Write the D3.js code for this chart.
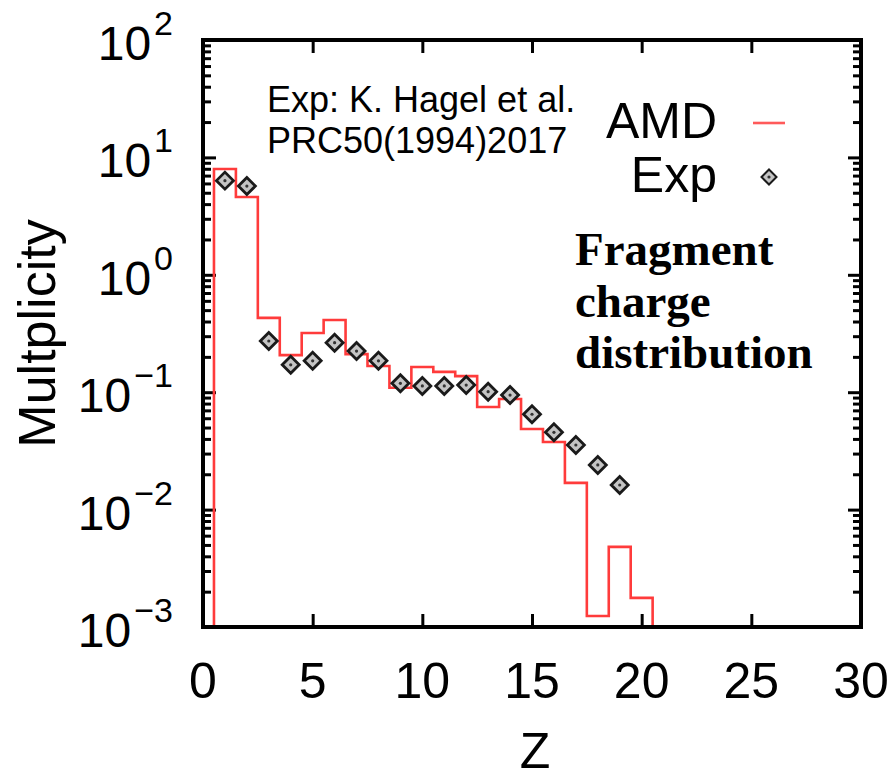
<!DOCTYPE html>
<html>
<head>
<meta charset="utf-8">
<script src="https://cdn.jsdelivr.net/npm/d3@7"></script>
<style>
  body { margin: 0; background: #fff; }
  svg { display: block; }
</style>
</head>
<body>
<svg width="896" height="781"></svg>
<script>
// AMD histogram, one bin per charge Z
var amdZ = [1, 2, 3, 4, 5, 6, 7, 8, 9, 10, 11, 12, 13, 14, 15, 16, 17, 18, 19, 20];
var amdMult = [7.96, 4.6, 0.43, 0.207, 0.319, 0.412, 0.211, 0.167, 0.109, 0.164,
               0.149, 0.137, 0.0748, 0.0875, 0.0486, 0.0377, 0.0169, 0.00124, 0.00481, 0.00177];

// Experimental points (Hagel et al.)
var expZ = [1, 2, 3, 4, 5, 6, 7, 8, 9, 10, 11, 12, 13, 14, 15, 16, 17, 18, 19];
var expMult = [6.34, 5.7, 0.273, 0.171, 0.185, 0.264, 0.224, 0.185, 0.119, 0.113,
               0.113, 0.115, 0.101, 0.0946, 0.0649, 0.0455, 0.0355, 0.024, 0.0162];

var xTicks = [0, 5, 10, 15, 20, 25, 30];
var yExponents = [2, 1, 0, -1, -2, -3];

var svg = d3.select('svg');
var padding = {t: 40, r: 35, b: 154, l: 203};
var svgWidth = +svg.attr('width');
var svgHeight = +svg.attr('height');
var chartWidth = svgWidth - padding.l - padding.r;
var chartHeight = svgHeight - padding.t - padding.b;

var xScale = d3.scaleLinear().domain([0, 30]).range([0, chartWidth]);
var yScale = d3.scaleLog().domain([1e-3, 1e2]).range([chartHeight, 0]);

var chartG = svg.append('g')
    .attr('transform', 'translate(' + [padding.l, padding.t] + ')');

svg.append('defs').append('clipPath').attr('id', 'plotClip')
    .append('rect').attr('width', chartWidth).attr('height', chartHeight);

// minor log ticks 2..9 in every decade
var minorTicks = [];
yExponents.slice(0, -1).forEach(function(e) {
    for (var k = 2; k <= 9; k++) minorTicks.push(k * Math.pow(10, e - 1));
});
var majorTicks = yExponents.map(function(e) { return Math.pow(10, e); });

function styleAxis(g) {
    g.select('.domain').remove();
    g.selectAll('line').attr('stroke', '#000').attr('stroke-width', 3);
    g.selectAll('text').remove();
}

chartG.append('g').attr('transform', 'translate(0,' + chartHeight + ')')
    .call(d3.axisBottom(xScale).tickValues(xTicks).tickSize(-13)).call(styleAxis);
chartG.append('g')
    .call(d3.axisTop(xScale).tickValues(xTicks).tickSize(-13)).call(styleAxis);
chartG.append('g')
    .call(d3.axisLeft(yScale).tickValues(majorTicks).tickSize(-13)).call(styleAxis);
chartG.append('g')
    .call(d3.axisLeft(yScale).tickValues(minorTicks).tickSize(-8)).call(styleAxis);
chartG.append('g').attr('transform', 'translate(' + chartWidth + ',0)')
    .call(d3.axisRight(yScale).tickValues(majorTicks).tickSize(-13)).call(styleAxis);
chartG.append('g').attr('transform', 'translate(' + chartWidth + ',0)')
    .call(d3.axisRight(yScale).tickValues(minorTicks).tickSize(-8)).call(styleAxis);

// x tick labels
chartG.selectAll('.xlab').data(xTicks).enter().append('text')
    .attr('class', 'xlab')
    .attr('x', function(d) { return xScale(d); })
    .attr('y', chartHeight + 71)
    .attr('text-anchor', 'middle')
    .attr('font-family', 'Liberation Sans, Arial, sans-serif')
    .attr('font-size', 50)
    .text(function(d) { return d; });

// y tick labels 10^n
var ylab = chartG.selectAll('.ylab').data(yExponents).enter().append('text')
    .attr('class', 'ylab')
    .attr('x', -30)
    .attr('y', function(d) { return yScale(Math.pow(10, d)) + 20; })
    .attr('text-anchor', 'end')
    .attr('font-family', 'Liberation Sans, Arial, sans-serif')
    .attr('font-size', 48);
ylab.append('tspan').text('10');
ylab.append('tspan').attr('dy', -25).attr('dx', 3).attr('font-size', 34)
    .text(function(d) { return d < 0 ? '\u2212' + (-d) : d; });

// axis titles
svg.append('text')
    .attr('x', 535).attr('y', 768)
    .attr('text-anchor', 'middle')
    .attr('font-family', 'Liberation Sans, Arial, sans-serif')
    .attr('font-size', 50)
    .text('Z');
svg.append('text')
    .attr('transform', 'translate(55,' + (padding.t + chartHeight / 2) + ') rotate(-90)')
    .attr('text-anchor', 'middle')
    .attr('font-family', 'Liberation Sans, Arial, sans-serif')
    .attr('font-size', 52)
    .text('Multplicity');

// AMD step line
var floorVal = 1e-4;
var stepPts = [[amdZ[0] - 0.5, floorVal]];
amdZ.forEach(function(z, i) { stepPts.push([z - 0.5, amdMult[i]]); });
stepPts.push([amdZ[amdZ.length - 1] + 0.5, amdMult[amdMult.length - 1]]);
stepPts.push([amdZ[amdZ.length - 1] + 0.5, floorVal]);

var stepLine = d3.line()
    .x(function(d) { return xScale(d[0]); })
    .y(function(d) { return yScale(d[1]); })
    .curve(d3.curveStepAfter);

chartG.append('path')
    .datum(stepPts)
    .attr('clip-path', 'url(#plotClip)')
    .attr('d', stepLine)
    .attr('fill', 'none')
    .attr('stroke', '#ff3b3b')
    .attr('stroke-width', 2.6);

// Exp diamonds
function diamond(sel, r, sw) {
    sel.append('path')
        .attr('d', 'M0,' + (-r) + 'L' + r + ',0L0,' + r + 'L' + (-r) + ',0Z')
        .attr('fill', '#c4c4c4')
        .attr('stroke', '#1a1a1a')
        .attr('stroke-width', sw);
    sel.append('circle').attr('r', 1.6).attr('fill', '#333');
}

var dots = chartG.selectAll('.dot')
    .data(expZ.map(function(z, i) { return {z: z, m: expMult[i]}; }))
    .enter().append('g')
    .attr('class', 'dot')
    .attr('transform', function(d) {
        return 'translate(' + [xScale(d.z), yScale(d.m)] + ')';
    });
diamond(dots, 8.5, 2.8);

// frame
chartG.append('rect')
    .attr('width', chartWidth).attr('height', chartHeight)
    .attr('fill', 'none').attr('stroke', '#000').attr('stroke-width', 4);

// legend
var legFont = 'Liberation Sans, Arial, sans-serif';
svg.append('text').attr('x', 717).attr('y', 138).attr('text-anchor', 'end')
    .attr('font-family', legFont).attr('font-size', 50).text('AMD');
svg.append('line').attr('x1', 753).attr('x2', 785).attr('y1', 123).attr('y2', 123)
    .attr('stroke', '#ff5a5a').attr('stroke-width', 2.6);
svg.append('text').attr('x', 717).attr('y', 192).attr('text-anchor', 'end')
    .attr('font-family', legFont).attr('font-size', 50).text('Exp');
var legDot = svg.append('g').attr('transform', 'translate(769,177)');
diamond(legDot, 7.5, 2);

// annotations
var ann = svg.append('text')
    .attr('font-family', legFont).attr('font-size', 36);
ann.append('tspan').attr('x', 267).attr('y', 112).text('Exp: K. Hagel et al.');
ann.append('tspan').attr('x', 267).attr('y', 153).text('PRC50(1994)2017');

var title = svg.append('text')
    .attr('font-family', 'Liberation Serif, Times New Roman, serif')
    .attr('font-weight', 'bold')
    .attr('font-size', 47);
['Fragment', 'charge', 'distribution'].forEach(function(s, i) {
    title.append('tspan').attr('x', 575).attr('y', 265 + i * 51.5).text(s);
});
</script>
</body>
</html>
